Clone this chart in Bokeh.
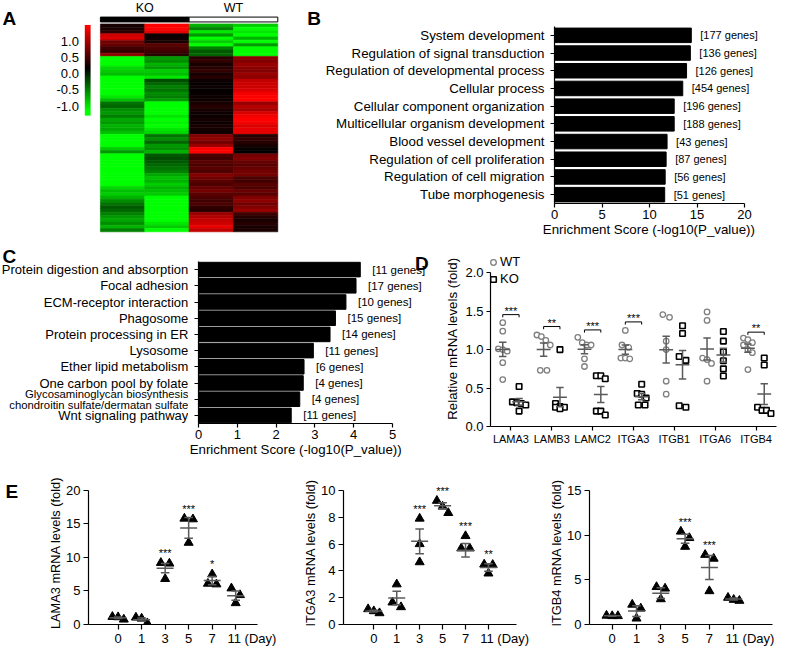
import numpy as np
from bokeh.plotting import figure
from bokeh.layouts import row, column
from bokeh.models import (Range1d, FixedTicker, SingleIntervalTicker, NumeralTickFormatter,
                          ColumnDataSource, LinearColorMapper, Legend, LegendItem, LabelSet)
from bokeh.transform import linear_cmap
from bokeh.core.properties import value
from bokeh.embed import file_html
from bokeh.resources import INLINE

FONT = "Liberation Sans"
GRAY = "#5a5a5a"
NBSP = "\u00a0"

# ---------------- Panel A: heatmap ----------------
heat_groups = ["KO", "WT"]
heat_ko1 = [0.1, 0.1, 0.15, 0.8, 0.85, 0.45, 0.4, 0.25, 0.2, 0.55,
            -1.0, -1.0, -1.0, -0.85, -0.8, -0.75, -1.0,
            -1.0, -1.0, -1.1, -1.0, -1.0, -0.9, -0.75,
            -0.45, -0.4, -0.55, -0.6, -0.5, -0.65, -0.6, -0.7, -0.65, -0.75,
            -1.0, -1.0, -1.0, -1.0, -0.8, -0.6,
            -1.0, -1.0, -1.0, -1.0, -1.0, -1.0,
            -1.0, -1.0, -1.0, -1.0, -0.85, -0.75, -0.8,
            -0.7, -0.55, -0.45, -0.35, -0.4, -0.5,
            -0.6, -0.65, -0.55, -0.7, -0.5]
heat_ko2 = [1.0, 1.1, 0.9, 0.05, 0.05, 0.1, 0.35, 0.3, 0.25, 0.15,
            -0.6, -0.55, -0.7, -0.6, -0.8, -0.75, -0.9,
            -0.3, -0.4, -0.5, -0.45, -0.55, -0.5, -0.6,
            -1.0, -1.0, -1.0, -1.0, -0.9, -1.0, -0.95, -1.0, -0.9, -0.85,
            -0.45, -0.55, -0.4, -0.6, -0.55, -0.7,
            -0.35, -0.3, -0.35, -0.4, -0.45, -0.5,
            -0.65, -0.75, -0.7, -0.8, -0.7, -0.75, -0.8,
            -1.0, -1.0, -1.0, -1.0, -1.0, -1.0,
            -1.0, -1.0, -0.9, -0.8, -1.0]
heat_wt1 = [-0.7, -0.5, -0.9, -0.6, -1.0, -0.8, -1.0, -0.5, -0.35, -0.4,
            0.15, 0.2, 0.1, 0.15, 0.2, 0.1, 0.15,
            0.05, 0.03, 0.05, 0.02, 0.03, 0.05, 0.05,
            0.1, 0.15, 0.1, 0.05, 0.05, 0.08, 0.05, 0.1, 0.08, 0.05,
            0.5, 0.55, 0.45, 0.6, 1.0, 1.05,
            0.3, 0.25, 0.35, 0.3, 0.35, 0.3,
            0.5, 0.45, 0.35, 0.3, 0.4, 0.45, 0.35,
            0.3, 0.25, 0.3, 0.2, 0.15, 0.6,
            0.7, 0.75, 0.8, 0.9, 0.75]
heat_wt2 = [-0.8, -1.0, -0.9, -1.0, -0.7, -1.0, -0.6, -1.0, -1.1, -1.1,
            0.55, 0.5, 0.6, 0.55, 0.5, 0.6, 0.55,
            0.75, 0.8, 0.8, 0.85, 0.95, 1.1, 1.0,
            0.6, 0.7, 0.65, 0.85, 0.95, 1.0, 0.95, 0.85, 0.9, 0.9,
            0.15, 0.2, 0.15, 0.1, 0.02, 0.0,
            0.45, 0.5, 0.4, 0.35, 0.4, 0.45,
            0.45, 0.3, 0.25, 0.35, 0.3, 0.4, 0.35,
            0.5, 0.55, 0.45, 0.5, 0.6, 0.25,
            0.15, 0.1, 0.15, 0.1, 0.1]
cbar_ticks = [-1.0, -0.5, 0.0, 0.5, 1.0]

# ---------------- Panel B: GO terms ----------------
go_terms = ["System development", "Regulation of signal transduction",
            "Regulation of developmental process", "Cellular process",
            "Cellular component organization", "Multicellular organism development",
            "Blood vessel development", "Regulation of cell proliferation",
            "Regulation of cell migration", "Tube morphogenesis"]
go_scores = [14.4, 14.3, 13.9, 13.5, 12.6, 12.6, 11.85, 11.75, 11.65, 11.6]
go_genes = [177, 136, 126, 454, 196, 188, 43, 87, 56, 51]

# ---------------- Panel C: KEGG pathways ----------------
kegg_terms = ["Protein digestion and absorption", "Focal adhesion", "ECM-receptor interaction",
              "Phagosome", "Protein processing in ER", "Lysosome", "Ether lipid metabolism",
              "One carbon pool by folate",
              "Glycosaminoglycan biosynthesis\nchondroitin sulfate/dermatan sulfate",
              "Wnt signaling pathway"]
kegg_scores = [4.17, 4.06, 3.8, 3.53, 3.39, 2.96, 2.72, 2.7, 2.61, 2.39]
kegg_genes = [11, 17, 10, 15, 14, 11, 6, 4, 4, 11]
enrich_title = "Enrichment Score (-log10(P_value))"

# ---------------- Panel D: relative mRNA ----------------
d_genes = ["LAMA3", "LAMB3", "LAMC2", "ITGA3", "ITGB1", "ITGA6", "ITGB4"]
wt_points = [[1.35, 1.24, 1.01, 1.00, 0.98, 0.83, 0.61],
             [1.19, 1.17, 1.12, 1.06, 0.73, 0.73],
             [1.16, 1.09, 1.06, 1.06, 0.88, 0.78],
             [1.25, 1.06, 1.03, 0.89, 0.89, 0.88],
             [1.455, 1.42, 1.11, 1.00, 0.59, 0.42],
             [1.49, 1.38, 0.89, 0.87, 0.82, 0.59],
             [1.15, 1.13, 1.09, 1.06, 1.00, 0.96, 0.74]]
ko_points = [[0.52, 0.32, 0.31, 0.30, 0.28, 0.20],
             [1.00, 0.30, 0.26, 0.25, 0.25, 0.23],
             [0.66, 0.66, 0.62, 0.20, 0.20, 0.15],
             [0.55, 0.43, 0.42, 0.37, 0.28, 0.28],
             [1.31, 1.21, 0.91, 0.86, 0.27, 0.25],
             [1.235, 1.11, 0.97, 0.855, 0.75, 0.656],
             [0.89, 0.80, 0.25, 0.21, 0.21, 0.17]]
sig_genes = ["LAMA3", "LAMB3", "LAMC2", "ITGA3", "ITGB4"]
sig_heights = [1.455, 1.30, 1.256, 1.36, 1.227]
sig_stars = ["***", "**", "***", "***", "**"]

# ---------------- Panel E: time courses ----------------
e_days = ["0", "1", "3", "5", "7", "11"]
e_day_unit = "(Day)"
lama3_pts = [[1.15, 0.75, 1.1], [0.2, 0.9, 1.05], [9.2, 9.1, 6.8],
             [15.8, 15.7, 12.2], [7.5, 6.0, 6.1], [5.4, 4.4, 3.2]]
lama3_mean = [1.0, 0.72, 8.4, 14.4, 6.55, 4.3]
lama3_sem = [0.12, 0.25, 0.7, 1.55, 0.62, 0.7]
lama3_stars = ["", "", "***", "***", "*", ""]

itga3_pts = [[0.85, 1.15, 1.0], [1.3, 3.0, 1.65], [7.9, 6.0, 4.65],
             [9.23, 8.32, 8.8], [6.6, 5.68, 5.68], [4.48, 4.45, 3.81]]
itga3_mean = [1.0, 1.97, 6.2, 8.85, 5.54, 4.25]
itga3_sem = [0.07, 0.5, 0.92, 0.22, 0.5, 0.28]
itga3_stars = ["", "", "***", "***", "***", "**"]

itgb4_pts = [[1.0, 0.95, 0.95], [2.23, 1.8, 0.68], [4.2, 4.03, 2.84],
             [10.4, 9.68, 8.7], [7.8, 7.37, 3.74], [2.66, 3.0, 2.77]]
itgb4_mean = [0.97, 1.5, 3.5, 9.6, 6.37, 2.85]
itgb4_sem = [0.05, 0.6, 0.6, 0.5, 1.35, 0.1]
itgb4_stars = ["", "", "", "***", "***", ""]


# ---------------- helpers ----------------
def rg_palette(n=256):
    pal = []
    for i in range(n):
        t = i / (n - 1) * 2 - 1
        if t < 0:
            pal.append("#%02x%02x%02x" % (0, int(round(-t * 255)), 0))
        else:
            pal.append("#%02x%02x%02x" % (int(round(t * 255)), 0, 0))
    return pal


def base_fig(w, h, l, r, t, b, xr, yr, axes=True):
    kw = {}
    if not axes:
        kw = dict(x_axis_location=None, y_axis_location=None)
    p = figure(width=w, height=h, x_range=xr, y_range=yr, title=None,
               min_border_left=l, min_border_right=r, min_border_top=t, min_border_bottom=b,
               output_backend="svg", toolbar_location=None, **kw)
    if "frame_align" in p.properties():
        p.frame_align = False
    p.outline_line_color = None
    p.xgrid.grid_line_color = None
    p.ygrid.grid_line_color = None
    return p


def style_axis(ax, size="13px"):
    ax.axis_line_color = "black"
    ax.axis_line_width = 1.2
    ax.major_tick_line_color = "black"
    ax.major_tick_line_width = 1.2
    ax.major_tick_out = 4
    ax.major_tick_in = 0
    ax.minor_tick_line_color = None
    ax.major_label_text_font = FONT
    ax.major_label_text_font_size = size
    ax.major_label_text_color = "black"
    ax.axis_label_text_font = FONT
    ax.axis_label_text_font_style = "normal"
    ax.axis_label_text_font_size = "13.3px"
    ax.axis_label_text_color = "black"


def hide_labels(ax):
    ax.major_label_text_font_size = "1px"
    ax.major_label_text_alpha = 0
    ax.major_label_standoff = 0


def letter(p, txt, x, y, **kw):
    p.text(x=[x], y=[y], text=[txt], text_font=value(FONT), text_font_size="19px",
           text_font_style="bold", text_baseline="alphabetic", text_align="left",
           text_color="black", **kw)


def centred_title(frame_w, target_px):
    # pad with trailing no-break spaces so the visible text is centred on target_px
    shift = frame_w / 2.0 - target_px
    n = max(0, int(round(2 * shift / (0.278 * 13.3))))
    return enrich_title + NBSP * n


def swarm_offsets(vals, px_per_unit, size_px, step):
    order = sorted(range(len(vals)), key=lambda i: -vals[i])
    offs = [0.0] * len(vals)
    clusters, cur = [], [order[0]]
    for a, b in zip(order[:-1], order[1:]):
        if (vals[a] - vals[b]) * px_per_unit < size_px:
            cur.append(b)
        else:
            clusters.append(cur)
            cur = [b]
    clusters.append(cur)
    for cl in clusters:
        m = len(cl)
        if m == 1:
            pat = [0]
        elif m == 2:
            pat = [-0.75, 0.75]
        elif m <= 4:
            pat = [j - (m - 1) / 2 for j in range(m)]
        else:
            pat = [(-1, 0, 1)[j % 3] for j in range(m)]
        for idx, k in zip(cl, pat):
            offs[idx] = k * step
    return offs


PAL = rg_palette()

# ================= Row 1 =================
ROW1_H = 239
# ---- A (also carries the letter of panel B) ----
A_W = 322
heat_cols = [heat_ko1, heat_ko2, heat_wt1, heat_wt2]
n_rows = len(heat_ko1)
HEAT_L, HEAT_R, HEAT_T, HEAT_B = 99.9, 277.3, 23.4, 231.3
col_px = (HEAT_R - HEAT_L) / 4
row_px = (HEAT_B - HEAT_T) / n_rows
hx, hy, hv = [], [], []
for j, col in enumerate(heat_cols):
    for i, v in enumerate(col):
        hx.append(j + 0.5)
        hy.append(n_rows - i - 0.5)
        hv.append(v)
pA = base_fig(A_W, ROW1_H, 0, 0, 0, 0,
              Range1d(-HEAT_L / col_px, 4 + (A_W - HEAT_R) / col_px),
              Range1d(-(ROW1_H - HEAT_B) / row_px, HEAT_B / row_px), axes=False)
cmap = linear_cmap("v", PAL, -1, 1)
pA.rect(x="x", y="y", width=1, height=1, source=ColumnDataSource(dict(x=hx, y=hy, v=hv)),
        fill_color=cmap, line_color=cmap, line_width=0.6)
pA.rect(x=[1, 3], y=[n_rows + 1.35, n_rows + 1.35], width=2, height=1.5,
        fill_color=["black", "white"], line_color="black", line_width=1)
pA.text(x=[1, 3], y=[n_rows + 5.0, n_rows + 5.0], text=heat_groups,
        text_font=value(FONT), text_font_size="12.5px", text_align="center",
        text_baseline="middle", text_color="black")
CB_PX, CB_ONE = 32.5, 40.7      # px per unit, px position of +1.0 from top
pA.extra_y_ranges = {"cb": Range1d(1.0 - (ROW1_H - CB_ONE) / CB_PX, 1.0 + CB_ONE / CB_PX)}
grad = np.linspace(-1.29, 1.5, 140).reshape(-1, 1)
cb_x = (84.3 - HEAT_L) / col_px
pA.image(image=[grad], x=cb_x, y=-1.29, dw=5.8 / col_px, dh=2.79, y_range_name="cb",
         color_mapper=LinearColorMapper(palette=PAL, low=-1.15, high=1.45))
pA.text(x=(78.4 - HEAT_L) / col_px, y=cbar_ticks, text=["%.1f" % t for t in cbar_ticks],
        y_range_name="cb", text_font=value(FONT), text_font_size="13px", text_align="right",
        text_baseline="middle", text_color="black")
letter(pA, "A", (2 - HEAT_L) / col_px, (HEAT_B - 17.6) / row_px)
letter(pA, "B", (306.7 - HEAT_L) / col_px, (HEAT_B - 17.6) / row_px)

# ---- B ----
B_W, B_L, B_R, B_T, B_B = 777 - A_W, 232, 12, 26, 36
B_FW, B_FH = B_W - B_L - B_R, ROW1_H - B_T - B_B
bx_px = 9.5
b_pos = [len(go_terms) - 1 - i for i in range(len(go_terms))]
pB = base_fig(B_W, ROW1_H, B_L, B_R, B_T, B_B, Range1d(0, B_FW / bx_px), Range1d(-0.5, 9.5))
pB.hbar(y=b_pos, right=go_scores, height=0.82, color="black")
pB.text(x=go_scores, y=b_pos, text=["[%d genes]" % g for g in go_genes], x_offset=9,
        text_font=value(FONT), text_font_size="11px", text_baseline="middle", text_color="black")
for ax in pB.axis:
    style_axis(ax)
pB.xaxis.ticker = FixedTicker(ticks=[0, 5, 10, 15, 20])
pB.xaxis.bounds = (0, 20)
pB.xaxis.major_label_standoff = 2
pB.xaxis.axis_label = centred_title(B_FW, 10 * bx_px)
pB.xaxis.axis_label_standoff = 0
pB.yaxis.ticker = FixedTicker(ticks=b_pos)
pB.yaxis.major_label_overrides = {p_: t for p_, t in zip(b_pos, go_terms)}
pB.yaxis.major_label_text_font_size = "13.3px"
pB.yaxis.major_label_standoff = 6

# ================= Row 2 =================
ROW2_H = 222
C_D_SPLIT = 442
# ---- C ----
C_LAB_W = 188
C_W, C_L, C_R, C_T, C_B = C_D_SPLIT - C_LAB_W, 10, 9, 0, 38
C_FH = ROW2_H - C_T - C_B
cx_px = 38.8
cy_px = 16.2
c_pos = [len(kegg_terms) - 1 - i for i in range(len(kegg_terms))]
cl_y, cl_t, cl_s = [], [], []
for base, t in zip(c_pos, kegg_terms):
    lines = t.split("\n")
    if len(lines) == 1:
        cl_y.append(base); cl_t.append(t); cl_s.append("13px")
    else:
        for k, ln in enumerate(lines):
            cl_y.append(base + ((len(lines) - 1) / 2 - k) * 10.6 / cy_px)
            cl_t.append(ln)
            cl_s.append("11.3px")
pCl = base_fig(C_LAB_W, ROW2_H, 0, 0, 0, 0, Range1d(0, C_LAB_W),
               Range1d(-0.5 - C_B / cy_px, -0.5 + C_FH / cy_px), axes=False)
pCl.text(x=187.8, y="y", text="t", source=ColumnDataSource(dict(y=cl_y, t=cl_t, s=cl_s)),
         text_font=value(FONT), text_font_size="s", text_align="right", text_baseline="middle",
         text_color="black")
letter(pCl, "C", 2, -0.5 + (C_FH - 16.7) / cy_px)

C_FW = C_W - C_L - C_R
pC = base_fig(C_W, ROW2_H, C_L, C_R, C_T, C_B, Range1d(0, C_FW / cx_px),
              Range1d(-0.5, -0.5 + C_FH / cy_px))
pC.hbar(y=c_pos, right=kegg_scores, height=0.9, color="black")
pC.text(x=kegg_scores, y=c_pos, text=["[%d genes]" % g for g in kegg_genes], x_offset=12,
        text_font=value(FONT), text_font_size="11.5px", text_baseline="middle", text_color="black")
for ax in pC.axis:
    style_axis(ax)
pC.xaxis.ticker = FixedTicker(ticks=[0, 1, 2, 3, 4, 5])
pC.xaxis.bounds = (0, 5)
pC.xaxis.major_label_standoff = 2
pC.xaxis.axis_label = centred_title(C_FW, 2.5 * cx_px)
pC.xaxis.axis_label_standoff = 0
pC.yaxis.ticker = FixedTicker(ticks=c_pos)
pC.yaxis.bounds = (-0.5, len(kegg_terms) - 0.5)
hide_labels(pC.yaxis[0])
letter(pC, "D", (414.5 - C_LAB_W - C_L) / cx_px, -0.5 + (C_FH - 23.5) / cy_px)

# ---- D ----
D_W, D_L, D_R, D_T, D_B = 777 - C_D_SPLIT, 45, 1, 11, 35
D_FW, D_FH = D_W - D_L - D_R, ROW2_H - D_T - D_B
D_CAT_PX = D_FW / len(d_genes)
D_PX = 76.9
pD = base_fig(D_W, ROW2_H, D_L, D_R, D_T, D_B, Range1d(-0.5, len(d_genes) - 0.5),
              Range1d(0, D_FH / D_PX))
step_d = 4.5 / D_CAT_PX
renderers = {}
for name, pts, dx, marker, lc, lw in [("WT", wt_points, -0.2, "circle", "#7f7f7f", 1.3),
                                       ("KO", ko_points, 0.2, "square", "black", 1.6)]:
    xs, ys = [], []
    mx, mm, ms = [], [], []
    for gi, vals in enumerate(pts):
        offs = swarm_offsets(vals, D_PX, 5.5, step_d)
        xs += [gi + dx + o for o in offs]
        ys += vals
        arr = np.array(vals)
        mx.append(gi + dx)
        mm.append(arr.mean())
        ms.append(arr.std(ddof=1) / np.sqrt(len(arr)))
    r = pD.scatter(xs, ys, marker=marker, size=5.5, fill_color="white", line_color=lc,
                   line_width=lw)
    renderers[name] = r
    mx = np.array(mx); mm = np.array(mm); ms = np.array(ms)
    pD.segment(x0=mx - 0.17, x1=mx + 0.17, y0=mm, y1=mm, line_color=GRAY, line_width=1.5)
    pD.segment(x0=mx, x1=mx, y0=mm - ms, y1=mm + ms, line_color=GRAY, line_width=1.5)
    pD.segment(x0=mx - 0.09, x1=mx + 0.09, y0=mm - ms, y1=mm - ms, line_color=GRAY, line_width=1.5)
    pD.segment(x0=mx - 0.09, x1=mx + 0.09, y0=mm + ms, y1=mm + ms, line_color=GRAY, line_width=1.5)
sx = np.array([d_genes.index(g) for g in sig_genes], dtype=float)
sy = np.array(sig_heights)
pD.segment(x0=sx - 0.2, x1=sx + 0.2, y0=sy, y1=sy, line_color="black", line_width=1)
pD.segment(x0=sx - 0.2, x1=sx - 0.2, y0=sy, y1=sy - 0.035, line_color="black", line_width=1)
pD.segment(x0=sx + 0.2, x1=sx + 0.2, y0=sy, y1=sy - 0.035, line_color="black", line_width=1)
pD.add_layout(LabelSet(x="x", y="y", text="t",
                       source=ColumnDataSource(dict(x=sx, y=sy, t=sig_stars)),
                       text_font=value(FONT), text_font_size="11px", text_align="center",
                       text_baseline="alphabetic", text_color="black"))
for ax in pD.axis:
    style_axis(ax)
pD.xaxis.ticker = FixedTicker(ticks=list(range(len(d_genes))))
pD.xaxis.major_label_overrides = {i: g for i, g in enumerate(d_genes)}
pD.xaxis.major_label_text_font_size = "11px"
pD.xaxis.major_label_standoff = 2
pD.yaxis.ticker = SingleIntervalTicker(interval=0.5)
pD.yaxis.formatter = NumeralTickFormatter(format="0.0")
pD.yaxis.bounds = (0, 2)
pD.yaxis.axis_label = "Relative mRNA levels (fold)"
pD.yaxis.axis_label_standoff = 2
pD.yaxis.major_label_standoff = 3
leg = Legend(items=[LegendItem(label="WT", renderers=[renderers["WT"]]),
                    LegendItem(label="KO", renderers=[renderers["KO"]])],
             location=(-4, 139), orientation="vertical", padding=0, margin=0, spacing=0,
             glyph_width=14, glyph_height=14, label_height=17, label_standoff=0,
             label_text_font=FONT, label_text_font_size="13px", label_text_color="black",
             border_line_color=None, background_fill_alpha=0)
pD.add_layout(leg)

# ================= Row 3 =================
ROW3_H = 187
E_T, E_B = 20, 22
E_FH = ROW3_H - E_T - E_B
E_AXIS_PX = 136      # pixel height of the 0..max part of the y axis


def e_panel(width, left, right, x_start, spacing, y_max, y_step, pts, means, sems, stars,
            ylabel):
    frame_w = width - left - right
    px_x = spacing
    px_y = E_AXIS_PX / y_max
    p = base_fig(width, ROW3_H, left, right, E_T, E_B,
                 Range1d(x_start, x_start + frame_w / px_x), Range1d(0, E_FH / px_y))
    xs, ys = [], []
    for i, vals in enumerate(pts):
        offs = swarm_offsets(vals, px_y, 8, 5.7 / px_x)
        xs += [i + o for o in offs]
        ys += vals
    p.scatter(xs, ys, marker="triangle", size=9, color="black")
    idx = np.arange(len(means), dtype=float)
    m = np.array(means); s = np.array(sems)
    hw = 8.5 / px_x
    cw = 4.3 / px_x
    p.segment(x0=idx - hw, x1=idx + hw, y0=m, y1=m, line_color=GRAY, line_width=1.5)
    p.segment(x0=idx, x1=idx, y0=m - s, y1=m + s, line_color=GRAY, line_width=1.5)
    p.segment(x0=idx - cw, x1=idx + cw, y0=m - s, y1=m - s, line_color=GRAY, line_width=1.5)
    p.segment(x0=idx - cw, x1=idx + cw, y0=m + s, y1=m + s, line_color=GRAY, line_width=1.5)
    st_x = [i for i, t in enumerate(stars) if t]
    st_y = [max(pts[i]) for i in st_x]
    st_t = [stars[i] for i in st_x]
    p.add_layout(LabelSet(x="x", y="y", text="t", y_offset=6,
                          source=ColumnDataSource(dict(x=st_x, y=st_y, t=st_t)),
                          text_font=value(FONT), text_font_size="11px", text_align="center",
                          text_baseline="alphabetic", text_color="black"))
    for ax in p.axis:
        style_axis(ax)
    labels = {i: d for i, d in enumerate(e_days)}
    last = len(e_days) - 1
    labels[last] = NBSP * 9 + e_days[last] + " " + e_day_unit
    p.xaxis.ticker = FixedTicker(ticks=list(range(len(e_days))))
    p.xaxis.major_label_overrides = labels
    p.xaxis.major_tick_out = 5
    p.xaxis.major_label_standoff = 1
    p.yaxis.ticker = SingleIntervalTicker(interval=y_step)
    p.yaxis.bounds = (0, y_max)
    p.yaxis.major_tick_out = 5
    p.yaxis.major_label_standoff = 3
    p.yaxis.axis_label = ylabel
    p.yaxis.axis_label_text_font_size = "12.8px"
    p.yaxis.axis_label_standoff = 0
    return p


E_LET_W = 20
pEl = base_fig(E_LET_W, ROW3_H, 0, 0, 0, 0, Range1d(0, E_LET_W), Range1d(0, ROW3_H), axes=False)
letter(pEl, "E", 4.9, ROW3_H - 29.9)
pE1 = e_panel(257, 68, 20, -29.6 / 23.52, 23.52, 20, 5, lama3_pts, lama3_mean, lama3_sem,
              lama3_stars, "LAMA3 mRNA levels (fold)")
pE2 = e_panel(256, 66, 17, -30.3 / 22.93, 22.93, 10, 2, itga3_pts, itga3_mean, itga3_sem,
              itga3_stars, "ITGA3 mRNA levels (fold)")
pE3 = e_panel(244, 56, 5, -22.7 / 24.3, 24.3, 15, 5, itgb4_pts, itgb4_mean, itgb4_sem,
              itgb4_stars, "ITGB4 mRNA levels (fold)")

layout = column(row(pA, pB), row(pCl, pC, pD), row(pEl, pE1, pE2, pE3))
open("out.html", "w").write(file_html(layout, INLINE))
